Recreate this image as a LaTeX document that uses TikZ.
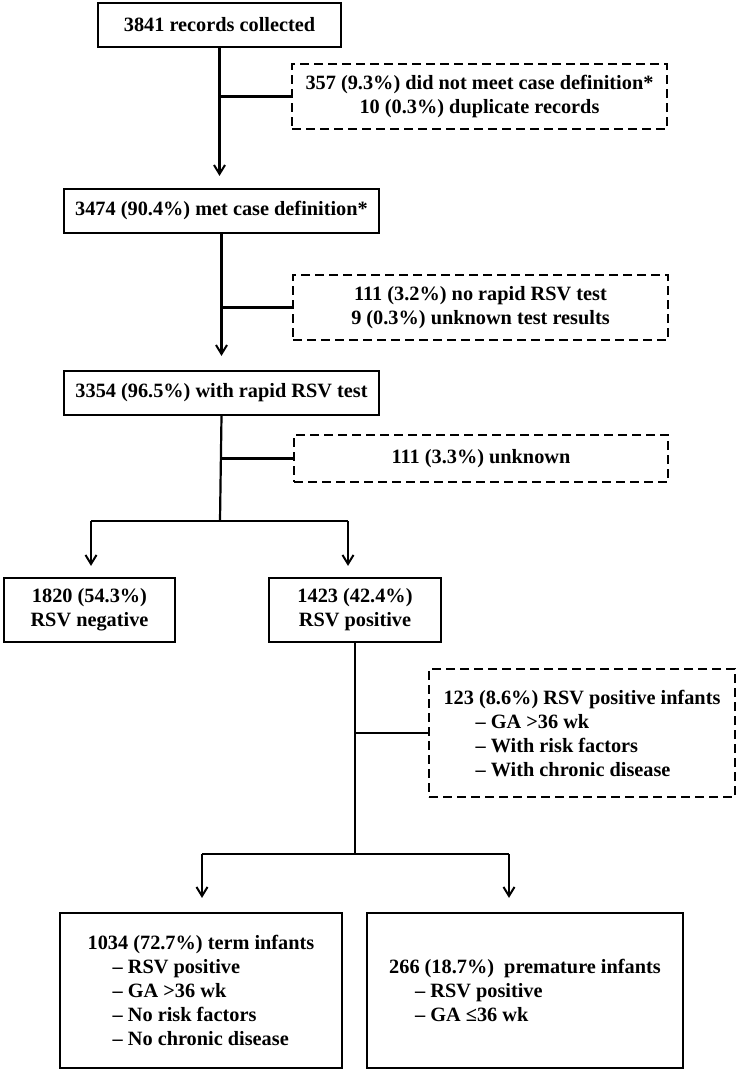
\documentclass[tikz,border=0pt]{standalone}
\usepackage{fontspec}
\setmainfont{Liberation Serif}
\usetikzlibrary{arrows.meta}

\tikzset{
  box/.style={draw, line width=2.2pt, inner sep=0pt, align=center,
    font=\fontsize{20.3}{24}\selectfont\bfseries},
  dbox/.style={box, line width=2pt, dash pattern=on 9pt off 5pt},
  link/.style={line width=2.2pt},
  arr/.style={link, -{Straight Barb[length=9pt,width=11pt,line width=2pt]}}
}

\begin{document}
\begin{tikzpicture}[x=1pt,y=-1pt]
  \useasboundingbox (0,0) rectangle (737,1072);

  \node[box, minimum width=243pt, minimum height=44pt] (rec) at (219.5,25) {3841 records collected};
  \node[dbox, minimum width=375pt, minimum height=65pt] (exA) at (479.5,96.5)
    {357 (9.3\%) did not meet case definition*\\10 (0.3\%) duplicate records};
  \node[box, minimum width=315pt, minimum height=44pt] (met) at (221.5,211) {3474 (90.4\%) met case definition*};
  \node[dbox, minimum width=375pt, minimum height=65pt] (exB) at (480.5,307.5)
    {111 (3.2\%) no rapid RSV test\\9 (0.3\%) unknown test results};
  \node[box, minimum width=315pt, minimum height=44pt] (test) at (221.5,393) {3354 (96.5\%) with rapid RSV test};
  \node[dbox, minimum width=374pt, minimum height=47pt] (exC) at (481,458.5) {111 (3.3\%) unknown};
  \node[box, minimum width=171pt, minimum height=64pt] (neg) at (89.5,610) {1820 (54.3\%)\\RSV negative};
  \node[box, minimum width=172pt, minimum height=64pt] (pos) at (355,610) {1423 (42.4\%)\\RSV positive};
  \node[dbox, align=left, minimum width=306pt, minimum height=128pt] (exD) at (582,733)
    {123 (8.6\%) RSV positive infants\\
     \hspace*{32pt}– GA >36 wk\\
     \hspace*{32pt}– With risk factors\\
     \hspace*{32pt}– With chronic disease};
  \node[box, align=left, minimum width=282pt, minimum height=155pt] (term) at (201,990.5)
    {1034 (72.7\%) term infants\\
     \hspace*{25pt}– RSV positive\\
     \hspace*{25pt}– GA >36 wk\\
     \hspace*{25pt}– No risk factors\\
     \hspace*{25pt}– No chronic disease};
  \node[box, align=left, minimum width=316pt, minimum height=155pt] (prem) at (525,990.5)
    {266 (18.7\%)\ \ premature infants\\
     \hspace*{26pt}– RSV positive\\
     \hspace*{26pt}– GA ≤36 wk};

  % branch points
  \coordinate (splitA) at (220,521);
  \coordinate (negA) at (91,521);
  \coordinate (posA) at (348,521);
  \coordinate (splitB) at (355,854);
  \coordinate (termB) at (202,854);
  \coordinate (premB) at (509,854);

  \draw[arr, shorten >=12pt] (rec.south) -- (rec.south |- met.north);
  \draw[link] (exA.west) -- (exA.west -| rec.south);
  \draw[arr, shorten >=14pt] (met.south) -- (met.south |- test.north);
  \draw[link] (exB.west) -- (exB.west -| met.south);
  \draw[link] (test.south) -- (splitA);
  \draw[link] (exC.west) -- (exC.west -| test.south);
  \draw[link] (negA) -- (posA);
  \draw[arr, shorten >=11pt] (negA) -- (negA |- neg.north);
  \draw[arr, shorten >=11pt] (posA) -- (posA |- pos.north);
  \draw[link] (pos.south) -- (splitB);
  \draw[link] (exD.west) -- (exD.west -| pos.south);
  \draw[link] (termB) -- (premB);
  \draw[arr, shorten >=14pt] (termB) -- (termB |- term.north);
  \draw[arr, shorten >=14pt] (premB) -- (premB |- prem.north);
\end{tikzpicture}
\end{document}
